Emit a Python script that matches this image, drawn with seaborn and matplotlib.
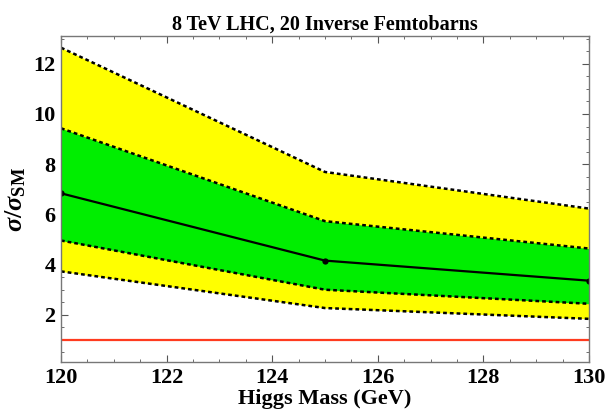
import numpy as np
import pandas as pd
import matplotlib
matplotlib.use('Agg')
import matplotlib.pyplot as plt
import seaborn as sns
from matplotlib.ticker import MultipleLocator

mass = [120, 125, 130]
median = [6.84, 4.16, 3.36]
green_lo = [4.96, 3.00, 2.44]
green_hi = [9.43, 5.73, 4.64]
yellow_lo = [3.73, 2.27, 1.84]
yellow_hi = [12.64, 7.69, 6.23]
sm_line = 1.0

sns.set_style('ticks')
plt.rcParams['font.family'] = ['Liberation Serif', 'DejaVu Serif']
plt.rcParams['font.weight'] = 'bold'
plt.rcParams['text.color'] = 'black'
plt.rcParams['axes.labelcolor'] = 'black'
plt.rcParams['xtick.labelcolor'] = 'black'
plt.rcParams['ytick.labelcolor'] = 'black'
plt.rcParams['mathtext.fontset'] = 'custom'
plt.rcParams['mathtext.rm'] = 'Liberation Serif:bold'
plt.rcParams['mathtext.it'] = 'Liberation Serif:italic:bold'

df = pd.DataFrame({'mass': mass, 'median': median, 'green_lo': green_lo,
                   'green_hi': green_hi, 'yellow_lo': yellow_lo, 'yellow_hi': yellow_hi})

fig = plt.figure(figsize=(6.08, 4.2), dpi=100)
ax = fig.add_axes([0.1003, 0.138, 0.8685, 0.776])

ax.fill_between(df['mass'], df['yellow_lo'], df['yellow_hi'], color='#ffff00', lw=0)
ax.fill_between(df['mass'], df['green_lo'], df['green_hi'], color='#00ee00', lw=0)
for col in ['yellow_lo', 'yellow_hi', 'green_lo', 'green_hi']:
    sns.lineplot(data=df, x='mass', y=col, ax=ax, color='black', lw=1.8,
                 linestyle=(0, (1.5, 1.2)))
sns.lineplot(data=df, x='mass', y='median', ax=ax, color='black', lw=1.6,
             marker='o', markersize=4.5, markeredgewidth=0)
ax.axhline(sm_line, color='#ff3b1f', lw=1.6)

ax.set_xlim(120, 130)
ax.set_ylim(0.12, 13.1)
ax.xaxis.set_major_locator(MultipleLocator(2))
ax.xaxis.set_minor_locator(MultipleLocator(0.5))
ax.yaxis.set_major_locator(MultipleLocator(2))
ax.yaxis.set_minor_locator(MultipleLocator(0.5))
ax.set_yticks([2, 4, 6, 8, 10, 12])
ax.tick_params(which='both', direction='in', top=True, right=True, color='#555555')
ax.tick_params(which='major', length=5, width=0.8, labelsize=16, pad=4)
ax.tick_params(which='minor', length=2.5, width=0.6)
for sp in ax.spines.values():
    sp.set_color('#777777')
    sp.set_linewidth(1.0)

ax.set_xlabel('Higgs Mass (GeV)', fontsize=16, fontweight='bold', labelpad=1)
ax.set_ylabel(r'$\sigma/\sigma_{\mathrm{SM}}$', fontsize=19, labelpad=4)
ax.set_title('8 TeV LHC, 20 Inverse Femtobarns', fontsize=14.5, fontweight='bold', pad=5)

fig.savefig('out.png', dpi=100)
